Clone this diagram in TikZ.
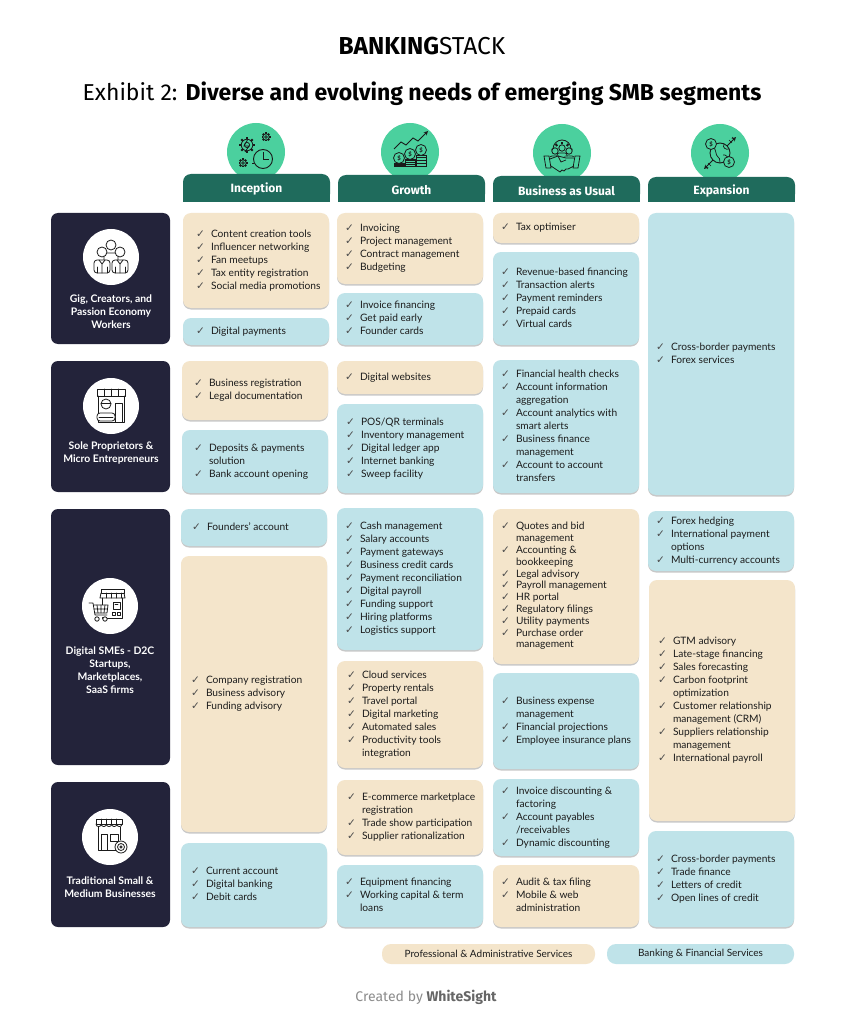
\documentclass[tikz,border=0pt]{standalone}
\usepackage{fontspec}
\setmainfont{Lato}
\newfontfamily\fira{Fira Sans}
\newfontfamily\ckfont{DejaVu Sans}
\usetikzlibrary{shadows}
\definecolor{beige}{HTML}{F4E5CB}
\definecolor{bluebox}{HTML}{BFE3E9}
\definecolor{navy}{HTML}{23233A}
\definecolor{tabgreen}{HTML}{1F6B5C}
\definecolor{mint}{HTML}{4BD09E}
\definecolor{txt}{HTML}{1C1C1C}
\definecolor{icn}{HTML}{1A1A1A}
\newcommand\ck{{\ckfont\fontsize{10.5}{13}\selectfont\color{black!70}✓}}
\newcommand\lst[2][13]{{\fontsize{10.2}{#1}\selectfont\begin{tabular}{@{}l@{\hspace{6pt}}l@{}}#2\end{tabular}}}
\tikzset{
  boxsty/.style={rounded corners=8pt, drop shadow={shadow xshift=0pt, shadow yshift=-1.5pt, opacity=0.3, fill=black!70}},
  segsty/.style={fill=navy, rounded corners=7pt},
  seglabel/.style={text=white, font=\bfseries\fontsize{10.4}{13}\selectfont, align=center, inner sep=0pt},
  tabtext/.style={text=white, font=\fira\bfseries\fontsize{12}{13}\selectfont, inner sep=0pt},
  icon/.style={draw=icn, line width=0.8pt, line join=round, line cap=round},
  legendsty/.style={rounded corners=9pt},
}
% name, colour, x1, y1, x2, y2, indent, content
\newcommand\cbox[8]{%
  \path[boxsty, fill=#2] (#3,#4) rectangle (#5,#6);
  \node (#1) [anchor=west, inner sep=0pt, text=txt] at ({#3+#7},{(#4+#6)/2}) {#8};}
\newcommand\gear[3]{%
  \begin{scope}[shift={(#1,#2)}]
    \draw[icn, line width=0.8pt] (0,0) circle ({0.72*#3});
    \foreach \a in {0,45,...,315}{\draw[icn, line width=2pt] (\a:{0.7*#3}) -- (\a:{#3});}
    \draw[icn, line width=0.7pt] (0,0) circle ({0.33*#3});
  \end{scope}}
\begin{document}
\begin{tikzpicture}[x=1pt, y=-1pt]
\useasboundingbox (0,0) rectangle (844,1024);
\fill[white] (0,0) rectangle (844,1024);

% ---------- header ----------
\node (brand) at (422,46) {\fira\fontsize{24.5}{27}\selectfont\textbf{BANKING}STACK};
\node (title) at (422,94) {\fira\fontsize{23}{26}\selectfont Exhibit 2: \textbf{Diverse and evolving needs of emerging SMB segments}};

% ---------- column headers ----------
\fill[mint] (256,152) circle (29);
\fill[mint] (410,152) circle (29);
\fill[mint] (562,153) circle (29);
\fill[mint] (720,153) circle (29);
\foreach \xa/\xb/\ya in {183/330/174, 338/485/175, 493/640/176, 648/795/177}{
  \fill[tabgreen, rounded corners=8pt] (\xa,\ya) rectangle (\xb,202);
  \fill[tabgreen] (\xa,190) rectangle (\xb,202);
}
\node (hinc) [tabtext] at (256.5,189) {Inception};
\node (hgro) [tabtext] at (411.5,190) {Growth};
\node (hbau) [tabtext] at (566.5,191) {Business as Usual};
\node (hexp) [tabtext] at (721.5,191) {Expansion};

% Inception icon: gears and clock
\gear{247}{145}{8}
\draw[icn, line width=0.8pt] (248,139) -- (244,146) -- (249,146) -- (245,152);
\gear{266}{137}{4.5}
\gear{243}{163}{4.5}
\fill[mint] (263,159) circle (10);
\draw[icn, line width=0.9pt] (263,159) circle (9.5);
\draw[icn, line width=0.9pt] (263,152) -- (263,159) -- (269,159);
\draw[icn, line width=0.8pt] (252,163) -- (254,163);

% Growth icon: coins and rising arrow
\foreach \cx/\cy in {399/158, 410/154, 421/150}{
  \draw[icn, line width=0.8pt] (\cx-5,\cy+5) rectangle (\cx+5,166);
  \foreach \k in {1,2,3}{\draw[icn, line width=0.6pt] (\cx-5,{\cy+5+\k*(166-\cy-5)/4}) -- (\cx+5,{\cy+5+\k*(166-\cy-5)/4});}
  \fill[mint] (\cx,\cy) circle (5.5);
  \draw[icn, line width=0.8pt] (\cx,\cy) circle (5.5);
  \node[inner sep=0pt, text=icn, font=\bfseries\fontsize{6}{6}\selectfont] at (\cx,\cy) {\$};
}
\draw[icn, line width=0.9pt, -stealth] (394,149) -- (401,142) -- (406,145) -- (413,138) -- (418,141) -- (428,131);

% BAU icon: people, gear, handshake
\begin{scope}[shift={(562,153)}]
  \draw[icn, line width=0.8pt] (-9,-4) arc (180:360:9);
  \foreach \a in {200,235,270,305,340}{\draw[icn, line width=2pt] (\a:8.5) -- (\a:11);}
  \foreach \px/\py in {-7/-2, 7/-2, 0/-5}{
    \fill[mint] (\px,\py) circle (3.5);
    \draw[icn, line width=0.8pt] (\px,\py) circle (3.2);
    \draw[icn, line width=0.8pt, rounded corners=2pt] (\px-5,\py+9) -- (\px-5,\py+5) -- (\px+5,\py+5) -- (\px+5,\py+9);
  }
  \fill[mint] (-17,5) -- (-3,3) -- (10,4) -- (17,4) -- (17,14) -- (5,19) -- (-14,14) -- cycle;
  \draw[icn, line width=0.8pt] (-18,3) -- (-13,3) -- (-11,15) -- (-16,15) -- cycle;
  \draw[icn, line width=0.8pt] (18,3) -- (13,3) -- (11,15) -- (16,15) -- cycle;
  \draw[icn, line width=0.8pt, line join=round] (-12,6) -- (-4,3) -- (4,5) -- (12,5);
  \draw[icn, line width=0.8pt, line join=round] (-11,13) -- (-2,19) -- (0,17) -- (2,18) -- (4,16) -- (6,16) -- (12,13);
  \draw[icn, line width=0.7pt] (-4,3) -- (-1,9) -- (4,7);
\end{scope}

% Expansion icon: globe, coins, arrows
\begin{scope}[shift={(720,153)}]
  \draw[icn, line width=0.9pt] (0,0) circle (10);
  \draw[icn, line width=0.7pt] (-7,-6) .. controls (-3,-3) and (-5,2) .. (-2,4) .. controls (1,6) and (-1,9) .. (0,10);
  \draw[icn, line width=0.7pt] (4,-9) .. controls (2,-5) and (6,-3) .. (9,-4);
  \draw[icn, line width=0.7pt] (3,2) .. controls (6,1) and (7,5) .. (9,4);
  \fill[mint] (-9,-9) circle (5.5);
  \draw[icn, line width=0.8pt] (-9,-9) circle (5.5);
  \node (expd1) [inner sep=0pt, text=icn, font=\bfseries\fontsize{6}{6}\selectfont] at (-9,-9) {\$};
  \fill[mint] (9,9) circle (5.5);
  \draw[icn, line width=0.8pt] (9,9) circle (5.5);
  \node (expd2) [inner sep=0pt, text=icn, font=\bfseries\fontsize{6}{6}\selectfont] at (9,9) {\$};
  \draw[icn, line width=0.9pt, -stealth] (7,-7) -- (16,-16);
  \draw[icn, line width=0.6pt] (9,-13) -- (12,-10) (12,-16) -- (15,-13);
  \draw[icn, line width=0.9pt, -stealth] (-7,7) -- (-16,16);
  \draw[icn, line width=0.6pt] (-9,13) -- (-12,10) (-12,16) -- (-15,13);
\end{scope}

% ---------- segment (row) labels ----------
\path[segsty] (51,213) rectangle (170,344);
\path[segsty] (51,361) rectangle (170,492);
\path[segsty] (51,509) rectangle (170,765);
\path[segsty] (51,782) rectangle (170,927);
\fill[white] (111,257) circle (28);
\fill[white] (111,406) circle (28);
\fill[white] (110,606) circle (28);
\fill[white] (110,837) circle (28);
\node (s1) [seglabel] at (111,312) {Gig, Creators, and\\Passion Economy\\Workers};
\node (s2) [seglabel] at (111,453) {Sole Proprietors \&\\Micro Entrepreneurs};
\node (s3) [seglabel] at (110,670) {Digital SMEs - D2C\\Startups,\\Marketplaces,\\SaaS firms};
\node (s4) [seglabel] at (110,887.5) {Traditional Small \&\\Medium Businesses};

% icon row 1: group of people
\begin{scope}[shift={(111,257)}]
  \draw[icon, fill=white] (0,-12) circle (5);
  \draw[icon, fill=white, rounded corners=3pt] (-7,10) -- (-7,-4) -- (7,-4) -- (7,10);
  \foreach \px in {-9,9}{
    \draw[icon, fill=white] (\px,-5) circle (5);
    \draw[icon, fill=white, rounded corners=3pt] (\px-8,16) -- (\px-8,3) -- (\px+8,3) -- (\px+8,16) -- cycle;
    \draw[icon] (\px-3,3) -- (\px,7) -- (\px+3,3) (\px,7) -- (\px,16);
    \draw[icon] (\px-5,10) -- (\px-5,16) (\px+5,10) -- (\px+5,16);
  }
\end{scope}

% icon row 2: shopkeeper
\begin{scope}[shift={(111,406)}]
  \draw[icon] (-14,-17) rectangle (14,-10);
  \foreach \sx in {-7,0,7}{\draw[icon] (\sx,-17) -- (\sx,-10);}
  \draw[icon] (-13,-10) -- (-13,16) -- (13,16) -- (13,-10);
  \draw[icon] (4,-3) rectangle (11,16);
  \fill[white] (-5,-2) circle (5);
  \draw[icon] (-5,-2) circle (5);
  \draw[icon] (-10,-3) -- (0,-3);
  \draw[icon, fill=white, rounded corners=3pt] (-14,15) -- (-14,7) -- (4,7) -- (4,15) -- cycle;
  \draw[icon] (-12,11) -- (2,11);
\end{scope}

% icon row 3: store with cart
\begin{scope}[shift={(110,606)}]
  \draw[icon] (-9,-17) rectangle (14,-13);
  \draw[icon] (-9,-13) -- (-10,-8) -- (15,-8) -- (14,-13);
  \foreach \sx in {-4,1,6,11}{\draw[icon] (\sx,-13) -- (\sx,-8);}
  \draw[icon] (-8,-8) -- (-8,12) -- (12,12) -- (12,-8);
  \draw[icon] (3,-4) rectangle (10,3);
  \draw[icon] (5,-2) -- (8,-2);
  \draw[icon] (2,6) rectangle (5,9) (7,6) rectangle (10,9);
  \fill[white] (-17,-1) -- (-3,-1) -- (-3,11) -- (-15,11) -- cycle;
  \draw[icon] (-21,-3) -- (-17,-3) -- (-15,9) -- (-3,9);
  \draw[icon] (-16.5,-1) -- (-2,-1) -- (-3,7) -- (-15,7);
  \draw[icon] (-13,-1) -- (-12,7) (-9,-1) -- (-9,7) (-5,-1) -- (-6,7) (-16,3) -- (-2.5,3);
  \draw[icon, fill=white] (-13,13) circle (2.2);
  \draw[icon, fill=white] (-5,13) circle (2.2);
\end{scope}

% icon row 4: store with badge
\begin{scope}[shift={(110,837)}]
  \draw[icon] (-14,-18) rectangle (12,-13);
  \foreach \sx in {-9,-4,1,6}{\draw[icon] (\sx,-18) -- (\sx,-13);}
  \draw[icon] (-14,-13) arc (180:0:2.6) arc (180:0:2.6) arc (180:0:2.6) arc (180:0:2.6) arc (180:0:2.6);
  \draw[icon] (-12,-10) -- (-12,13) -- (6,13);
  \draw[icon] (10,-10) -- (10,3);
  \draw[icon] (-9,-3) rectangle (-3,13);
  \draw[icon] (0,-3) rectangle (8,4);
  \draw[icon, fill=white] (11,10) circle (6);
  \draw[icon] (11,10) circle (3.5);
  \draw[icon] (11,10) circle (1.2);
\end{scope}

% ---------- Inception column ----------
\cbox{i1}{beige}{183}{213}{329}{308}{13}{\lst{\ck & Content creation tools\\ \ck & Influencer networking\\ \ck & Fan meetups\\ \ck & Tax entity registration\\ \ck & Social media promotions}}
\cbox{i2}{bluebox}{183}{318}{329}{345}{13}{\lst{\ck & Digital payments}}
\cbox{i3}{beige}{182}{361}{328}{420}{12}{\lst{\ck & Business registration\\ \ck & Legal documentation}}
\cbox{i4}{bluebox}{182}{430}{328}{493}{12}{\lst{\ck & Deposits \& payments\\ & solution\\ \ck & Bank account opening}}
\cbox{i5}{bluebox}{181}{509}{327}{546}{11}{\lst{\ck & Founders’ account}}
\cbox{i6}{beige}{181}{556}{327}{832}{10}{\lst{\ck & Company registration\\ \ck & Business advisory\\ \ck & Funding advisory}}
\cbox{i7}{bluebox}{181}{843}{327}{927}{10}{\lst{\ck & Current account\\ \ck & Digital banking\\ \ck & Debit cards}}

% ---------- Growth column ----------
\cbox{g1}{beige}{337}{213}{483}{284}{8}{\lst{\ck & Invoicing\\ \ck & Project management\\ \ck & Contract management\\ \ck & Budgeting}}
\cbox{g2}{bluebox}{337}{293}{483}{345}{8}{\lst{\ck & Invoice financing\\ \ck & Get paid early\\ \ck & Founder cards}}
\cbox{g3}{beige}{337}{361}{483}{394}{8}{\lst{\ck & Digital websites}}
\cbox{g4}{bluebox}{337}{404}{483}{493}{9}{\lst{\ck & POS/QR terminals\\ \ck & Inventory management\\ \ck & Digital ledger app\\ \ck & Internet banking\\ \ck & Sweep facility}}
\cbox{g5}{bluebox}{337}{508}{483}{650}{8}{\lst{\ck & Cash management\\ \ck & Salary accounts\\ \ck & Payment gateways\\ \ck & Business credit cards\\ \ck & Payment reconciliation\\ \ck & Digital payroll\\ \ck & Funding support\\ \ck & Hiring platforms\\ \ck & Logistics support}}
\cbox{g6}{beige}{337}{661}{483}{768}{10}{\lst{\ck & Cloud services\\ \ck & Property rentals\\ \ck & Travel portal\\ \ck & Digital marketing\\ \ck & Automated sales\\ \ck & Productivity tools\\ & integration}}
\cbox{g7}{beige}{337}{780}{483}{855}{10}{\lst{\ck & E-commerce marketplace\\ & registration\\ \ck & Trade show participation\\ \ck & Supplier rationalization}}
\cbox{g8}{bluebox}{337}{865}{483}{927}{8}{\lst{\ck & Equipment financing\\ \ck & Working capital \& term\\ & loans}}

% ---------- Business as Usual column ----------
\cbox{b1}{beige}{493}{213}{639}{243}{8}{\lst{\ck & Tax optimiser}}
\cbox{b2}{bluebox}{493}{252}{639}{345}{8}{\lst{\ck & Revenue-based financing\\ \ck & Transaction alerts\\ \ck & Payment reminders\\ \ck & Prepaid cards\\ \ck & Virtual cards}}
\cbox{b3}{bluebox}{493}{360}{639}{493}{8}{\lst{\ck & Financial health checks\\ \ck & Account information\\ & aggregation\\ \ck & Account analytics with\\ & smart alerts\\ \ck & Business finance\\ & management\\ \ck & Account to account\\ & transfers}}
\cbox{b4}{beige}{493}{509}{639}{664}{8}{\lst[11.8]{\ck & Quotes and bid\\ & management\\ \ck & Accounting \&\\ & bookkeeping\\ \ck & Legal advisory\\ \ck & Payroll management\\ \ck & HR portal\\ \ck & Regulatory filings\\ \ck & Utility payments\\ \ck & Purchase order\\ & management}}
\cbox{b5}{bluebox}{493}{673}{639}{769}{8}{\lst{\ck & Business expense\\ & management\\ \ck & Financial projections\\ \ck & Employee insurance plans}}
\cbox{b6}{bluebox}{493}{779}{639}{856}{8}{\lst{\ck & Invoice discounting \&\\ & factoring\\ \ck & Account payables\\ & /receivables\\ \ck & Dynamic discounting}}
\cbox{b7}{beige}{493}{865}{639}{927}{8}{\lst{\ck & Audit \& tax filing\\ \ck & Mobile \& web\\ & administration}}

% ---------- Expansion column ----------
\cbox{e1}{bluebox}{648}{213}{794}{495}{8}{\lst{\ck & Cross-border payments\\ \ck & Forex services}}
\cbox{e2}{bluebox}{648}{511}{794}{571}{8}{\lst{\ck & Forex hedging\\ \ck & International payment\\ & options\\ \ck & Multi-currency accounts}}
\cbox{e3}{beige}{649}{580}{795}{821}{9}{\lst{\ck & GTM advisory\\ \ck & Late-stage financing\\ \ck & Sales forecasting\\ \ck & Carbon footprint\\ & optimization\\ \ck & Customer relationship\\ & management (CRM)\\ \ck & Suppliers relationship\\ & management\\ \ck & International payroll}}
\cbox{e4}{bluebox}{648}{831}{794}{927}{8}{\lst{\ck & Cross-border payments\\ \ck & Trade finance\\ \ck & Letters of credit\\ \ck & Open lines of credit}}

% ---------- legend ----------
\fill[legendsty, beige] (382,944) rectangle (595,964);
\fill[legendsty, bluebox] (607,944) rectangle (794,964);
\node (lg1) [text=txt, font=\fontsize{10}{12}\selectfont] at (488.5,954) {Professional \& Administrative Services};
\node (lg2) [text=txt, font=\fontsize{10}{12}\selectfont] at (700.5,954) {Banking \& Financial Services};

% ---------- footer ----------
\node (foot) at (426,997) {\fira\fontsize{14}{16}\selectfont\color{black!45}Created by \textcolor{black!60}{\bfseries WhiteSight}};
\end{tikzpicture}
\end{document}
